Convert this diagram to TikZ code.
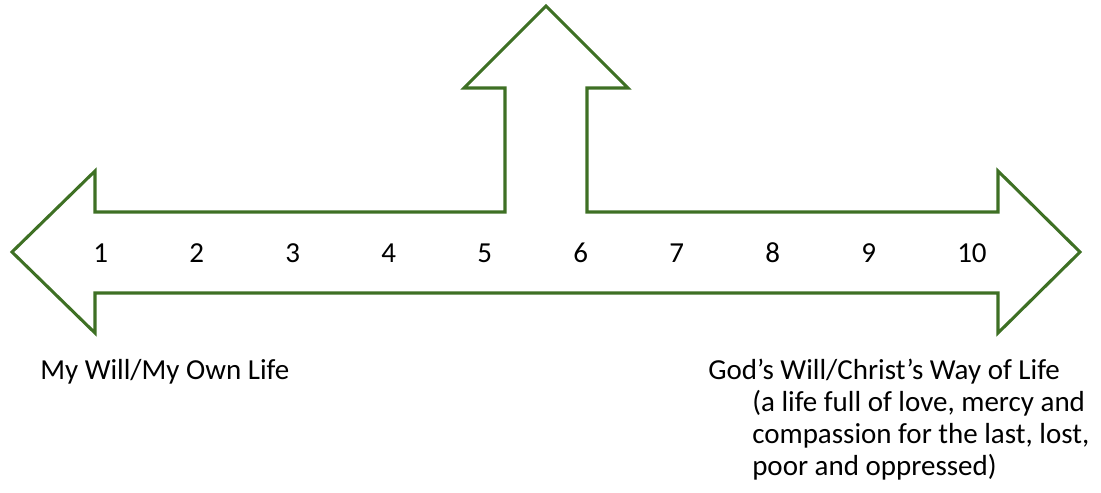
\documentclass[tikz,border=0pt]{standalone}
\usepackage{fontspec}
\setmainfont{Carlito}
\definecolor{arrowgreen}{RGB}{62,112,36}
\tikzset{
  outline/.style={draw=arrowgreen, line width=2.3pt, line join=miter},
  num/.style={anchor=base west, inner sep=0pt, font=\fontsize{21.75}{24}\selectfont},
  caption/.style={anchor=base west, inner sep=0pt, align=left, font=\fontsize{21.75}{24}\selectfont}
}
\begin{document}
\begin{tikzpicture}[x=0.75pt, y=-0.75pt]
    \useasboundingbox (0,0) rectangle (1101,493);

    % Die Eckpunkte des Pfeils
    \coordinate (L) at (12,252);
    \coordinate (R) at (1080,252);
    \coordinate (T) at (546,6);

    % Pfeil mit drei Spitzen
    \draw[outline] (L) -- (95,171) -- (95,212) -- (505,212) -- (505,88)
        -- (464,88) -- (T) -- (628,88) -- (587,88) -- (587,212)
        -- (998,212) -- (998,171) -- (R) -- (998,333) -- (998,293)
        -- (95,293) -- (95,333) -- cycle;

    % Skala 1 bis 10
    \foreach \n in {1,...,10}
        \node[num] (n\n) at ({93+96*(\n-1)},262) {\n};

    % Beschriftungen unten
    \node[caption] (own) at (40,379) {My Will/My Own Life};
    \node[caption] (god) at (708,379) {God’s Will/Christ’s Way of Life};
    \node[caption, anchor=north west] (life) at (752,390)
        {(a life full of love, mercy and\\compassion for the last, lost,\\poor and oppressed)};
\end{tikzpicture}
\end{document}
